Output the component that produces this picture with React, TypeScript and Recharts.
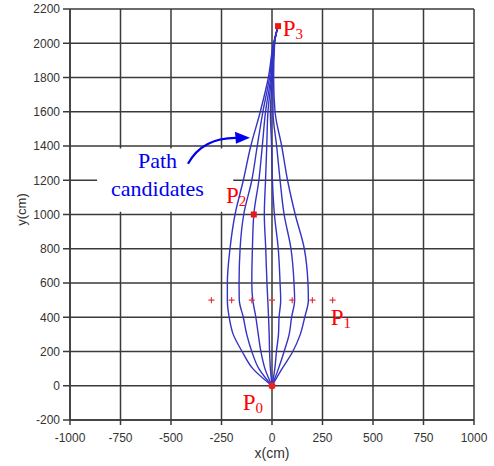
import React from 'react';
import {
  ComposedChart,
  Line,
  Scatter,
  XAxis,
  YAxis,
  CartesianGrid,
  ReferenceArea,
  ReferenceDot,
} from 'recharts';

// axis ticks
const xTicks = [-1000, -750, -500, -250, 0, 250, 500, 750, 1000];
const yTicks = [-200, 0, 200, 400, 600, 800, 1000, 1200, 1400, 1600, 1800, 2000, 2200];

// path candidates, x(cm) read at these y(cm) levels
const yLevels = [0, 100, 200, 300, 400, 500, 600, 800, 1000, 1200, 1400, 1600, 1800, 2000, 2100];
const path1X = [0, -95, -148, -192, -212, -221, -221, -208, -183, -142, -105, -58, -18, 8, 30];
const path2X = [0, -65, -100, -125, -142, -162, -163, -158, -140, -100, -73, -45, -12, 9, 30];
const path3X = [0, -35, -55, -68, -80, -95, -100, -97, -90, -65, -48, -32, -6, 10, 30];
const path4X = [0, -8, -12, -14, -17, -21, -25, -31, -38, -32, -26, -20, -2, 11, 30];
const path5X = [0, 14, 22, 32, 35, 43, 40, 31, 12, 2, -2, -8, 2, 11, 30];
const path6X = [0, 32, 60, 85, 97, 112, 109, 94, 60, 40, 23, 5, 5, 12, 30];
const path7X = [0, 50, 103, 140, 162, 180, 178, 160, 115, 77, 48, 15, 8, 13, 30];
const pathsX = [path1X, path2X, path3X, path4X, path5X, path6X, path7X];

// P1 candidates
const p1X = [-300, -200, -100, 0, 100, 200, 300];
const p1Y = 500;

// fixed points
const p0 = [{ x: 0, y: 0 }];
const p2 = [{ x: -90, y: 1000 }];
const p3 = [{ x: 30, y: 2100 }];

const paths = pathsX.map((xs) => xs.map((x, i) => ({ x, y: yLevels[i] })));
const p1Points = p1X.map((x) => ({ x, y: p1Y }));

const RED = '#ff0000';
const BLUE = '#0000f0';
const PATH_BLUE = '#3333c4';
const GRID = '#3a3a3a';
const SERIF = '"Liberation Serif", "Times New Roman", serif';
const SANS = '"Liberation Sans", Arial, sans-serif';

const PlusShape = (props: any) => {
  const { cx, cy } = props;
  return (
    <path
      d={`M${cx - 3},${cy}H${cx + 3}M${cx},${cy - 3}V${cy + 3}`}
      stroke="#e03a3a"
      strokeWidth={1.2}
    />
  );
};

const SquareShape = (props: any) => {
  const { cx, cy } = props;
  return <rect x={cx - 3} y={cy - 3} width={6} height={6} fill="#ee1515" />;
};

const DotShape = (props: any) => {
  const { cx, cy } = props;
  return <circle cx={cx} cy={cy} r={3.5} fill="#ee2020" />;
};

const pLabel = (main: string, sub: string) => (props: any) => {
  const { x, y } = props.viewBox;
  return (
    <text x={x} y={y} fill={RED} fontFamily={SERIF} fontSize={23}>
      {main}
      <tspan fontSize={15} dy={3}>
        {sub}
      </tspan>
    </text>
  );
};

const candidatesLabel = (props: any) => {
  const { x, y } = props.viewBox;
  return (
    <g fill={BLUE} fontFamily={SERIF} fontSize={22} textAnchor="middle">
      <text x={x} y={y}>Path</text>
      <text x={x} y={y + 28.5}>candidates</text>
    </g>
  );
};

const arrowLabel = (props: any) => {
  const { x, y } = props.viewBox;
  return (
    <g transform={`translate(${x},${y})`}>
      <path d="M0,0 Q14,-26 48,-26" fill="none" stroke={BLUE} strokeWidth={2.2} />
      <polygon points="62,-26 47,-32 48,-20" fill={BLUE} />
    </g>
  );
};

export default function App() {
  return (
    <div style={{ position: 'absolute', left: 0, top: 0, width: 494, height: 466, background: '#fff' }}>
      <ComposedChart width={494} height={466} margin={{ top: 9, right: 20, bottom: 6, left: 0 }}>
        <CartesianGrid stroke={GRID} strokeWidth={1.5} horizontalValues={yTicks} verticalValues={xTicks} />
        <XAxis
          type="number"
          dataKey="x"
          domain={[-1000, 1000]}
          ticks={xTicks}
          interval={0}
          height={40}
          tickSize={5}
          tickMargin={8}
          stroke={GRID}
          strokeWidth={1.5}
          tick={{ fill: '#333', fontSize: 12, fontFamily: SANS }}
          label={(props: any) => {
            const vb = props.viewBox;
            return (
              <text x={vb.x + vb.width / 2} y={vb.y + 38} textAnchor="middle" fill="#333" fontSize={14} fontFamily={SANS}>
                x(cm)
              </text>
            );
          }}
        />
        <YAxis
          type="number"
          dataKey="y"
          domain={[-200, 2200]}
          ticks={yTicks}
          interval={0}
          width={70}
          tickSize={7}
          tickMargin={3}
          stroke={GRID}
          strokeWidth={1.5}
          tick={{ fill: '#333', fontSize: 12, fontFamily: SANS }}
          label={(props: any) => {
            const vb = props.viewBox;
            const cx = vb.x + 21;
            const cy = vb.y + vb.height / 2 - 5;
            return (
              <text x={cx} y={cy} transform={`rotate(-90 ${cx} ${cy})`} textAnchor="middle" dominantBaseline="central" fill="#333" fontSize={13} fontFamily={SANS}>
                y(cm)
              </text>
            );
          }}
        />
        <ReferenceArea x1={-866} x2={-192} y1={1016} y2={1385} fill="#fff" fillOpacity={1} stroke="none" />
        <Scatter data={p0} fill="#ee2020" shape={DotShape} isAnimationActive={false} />
        {paths.map((d, i) => (
          <Line
            key={`path-${i}`}
            data={d}
            dataKey="y"
            type="monotoneY"
            stroke={PATH_BLUE}
            strokeWidth={1.4}
            dot={false}
            activeDot={false}
            isAnimationActive={false}
          />
        ))}
        <Scatter data={p1Points} fill="#e03a3a" shape={PlusShape} isAnimationActive={false} />
        <Scatter data={p2} fill="#ee1515" shape={SquareShape} isAnimationActive={false} />
        <Scatter data={p3} fill="#ee1515" shape={SquareShape} isAnimationActive={false} />
        <ReferenceDot x={53} y={2043} r={0} fill="none" stroke="none" label={pLabel('P', '3')} />
        <ReferenceDot x={-228} y={1067} r={0} fill="none" stroke="none" label={pLabel('P', '2')} />
        <ReferenceDot x={291} y={356} r={0} fill="none" stroke="none" label={pLabel('P', '1')} />
        <ReferenceDot x={-145} y={-140} r={0} fill="none" stroke="none" label={pLabel('P', '0')} />
        <ReferenceDot x={-567} y={1273} r={0} fill="none" stroke="none" label={candidatesLabel} />
        <ReferenceDot x={-416} y={1296} r={0} fill="none" stroke="none" label={arrowLabel} />
      </ComposedChart>
    </div>
  );
}
